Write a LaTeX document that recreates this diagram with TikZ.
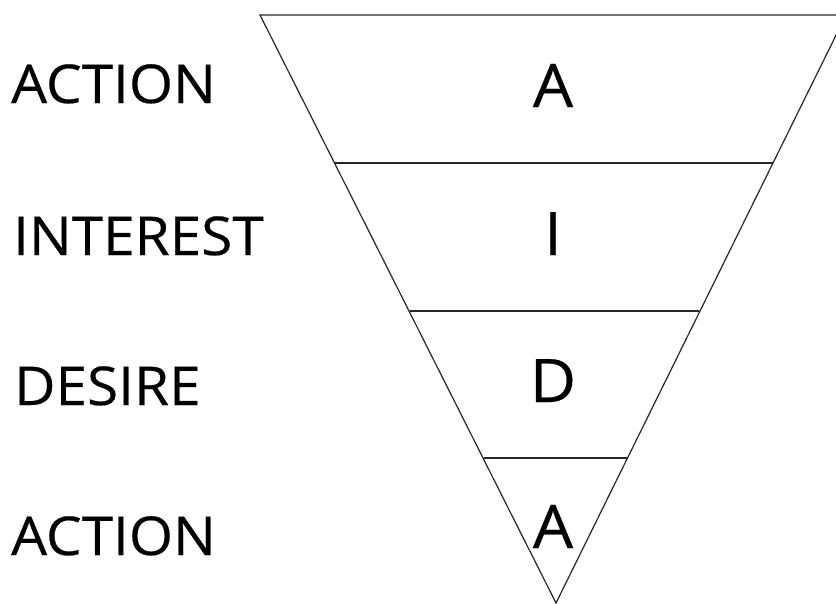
\documentclass[tikz,border=0pt]{standalone}
\usepackage{fontspec}
\setmainfont{Open Sans}
\newfontfamily\labfont{Open Sans}[FakeStretch=1.06,FakeBold=0.4]
\begin{document}
\begin{tikzpicture}[x=1pt,y=-1pt,
  label/.style={anchor=base west,inner sep=0pt,font=\labfont\fontsize{53.5}{60}\selectfont},
  letter/.style={anchor=base,inner sep=0pt,font=\labfont\fontsize{60}{70}\selectfont},
  edge/.style={line width=1.2pt,black!85}]
\useasboundingbox (0,0) rectangle (836,603);
\clip (0,0) rectangle (836,603);
\coordinate (tl) at (260,15);
\coordinate (tr) at (846,15);
\coordinate (ap) at (556,603);
\coordinate (l1) at (335,163); \coordinate (r1) at (773,163);
\coordinate (l2) at (410,311); \coordinate (r2) at (699,311);
\coordinate (l3) at (484,458); \coordinate (r3) at (627,458);
\draw[edge] (tl) -- (tr) -- (ap) -- cycle;
\draw[edge] (l1) -- (r1);
\draw[edge] (l2) -- (r2);
\draw[edge] (l3) -- (r3);
\node[label] (t1) at (11,103) {ACTION};
\node[label] (t2) at (13,255) {INTEREST};
\node[label] (t3) at (14,405) {DESIRE};
\node[label] (t4) at (11,555) {ACTION};
\node[letter] (a1) at (553,107) {A};
\node[letter] (a2) at (553,255) {I};
\node[letter] (a3) at (553,402) {D};
\node[letter] (a4) at (553,548) {A};
\end{tikzpicture}
\end{document}
